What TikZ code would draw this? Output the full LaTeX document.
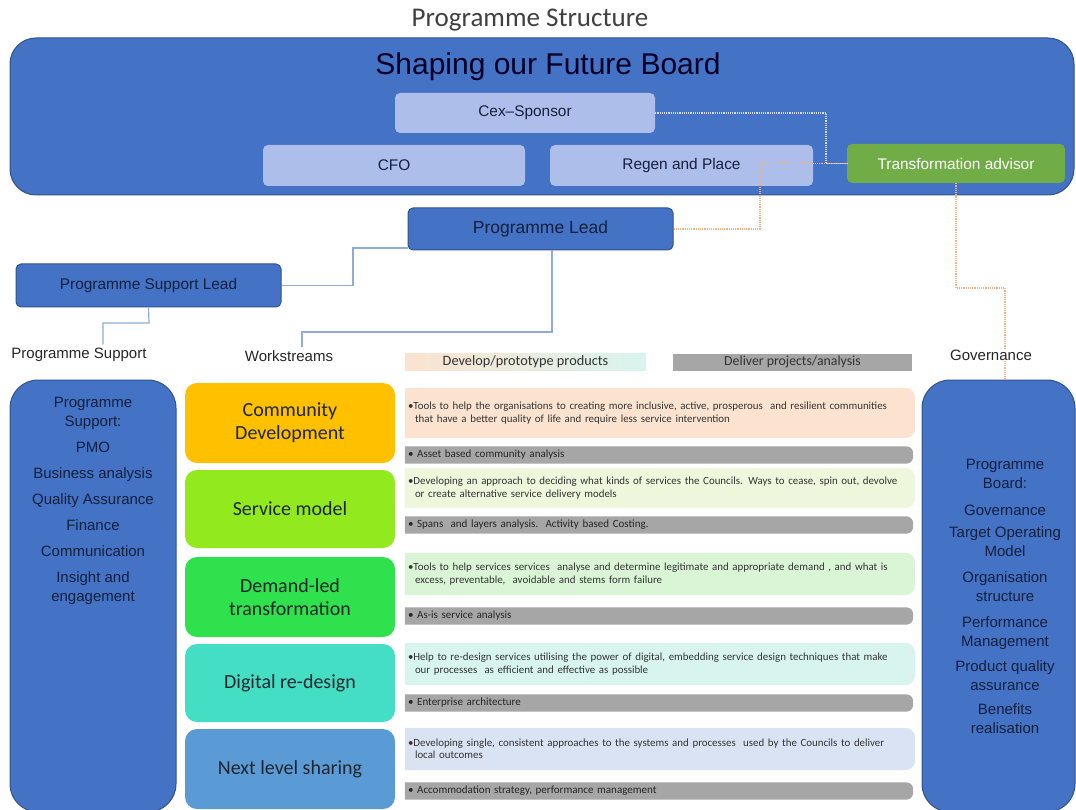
\documentclass[tikz,border=0pt]{standalone}
\usepackage{fontspec}
\setmainfont{Liberation Sans}
\newfontfamily\calib{Carlito}
\usetikzlibrary{backgrounds}

\definecolor{boardblue}{HTML}{4472C4}
\definecolor{boardedge}{HTML}{2F528F}
\definecolor{lilac}{HTML}{AEBEEA}
\definecolor{navytext}{HTML}{14203E}
\definecolor{advisor}{HTML}{70AD47}
\definecolor{linkblue}{HTML}{8FAADC}
\definecolor{peach}{HTML}{F4B183}
\definecolor{softdot}{HTML}{D6DCF0}
\definecolor{barsgrey}{HTML}{A6A6A6}
\definecolor{wstext}{HTML}{1F2630}
\definecolor{cdorange}{HTML}{FFC000}
\definecolor{smlime}{HTML}{92EA1E}
\definecolor{dtgreen}{HTML}{2FE14C}
\definecolor{drteal}{HTML}{44DEC5}
\definecolor{nlblue}{HTML}{5B9BD5}
\definecolor{cdpale}{HTML}{FBE3D0}
\definecolor{smpale}{HTML}{EEF6DB}
\definecolor{dtpale}{HTML}{D9F5D5}
\definecolor{drpale}{HTML}{D8F4EE}
\definecolor{nlpale}{HTML}{DAE3F3}

% fill a node's outline, rounded on the right hand side only
\newcommand\rightround[3]{%
  \fill[#2] (#1.north west) -- ([xshift=-#3]#1.north east)
    arc[start angle=90, end angle=0, radius=#3]
    -- ([yshift=#3]#1.south east)
    arc[start angle=0, end angle=-90, radius=#3]
    -- (#1.south west) -- cycle;}

\begin{document}
\begin{tikzpicture}[x=1pt, y=-1pt,
  bluebox/.style={draw=boardedge, fill=boardblue, line width=1pt, rounded corners=5pt, text=navytext},
  lilacbox/.style={fill=lilac, rounded corners=5pt, text=navytext, minimum height=41pt, font=\fontsize{15.4}{18}\selectfont},
  wsbox/.style={rounded corners=12pt, minimum width=210pt, text=wstext, align=center, font=\calib\fontsize{20}{23}\selectfont},
  desctext/.style={minimum width=510pt, text width=504pt, inner xsep=3pt, align=left, text=black!80, font=\calib\fontsize{10.9}{12.5}\selectfont},
  bartext/.style={minimum width=508pt, text width=502pt, inner xsep=3pt, inner ysep=0pt, minimum height=17pt, align=left, text=black!85, font=\calib\fontsize{11}{12}\selectfont},
  headtext/.style={text=black!85, font=\fontsize{15}{18}\selectfont},
  listtext/.style={align=center, text=navytext, font=\fontsize{15}{19}\selectfont},
  link/.style={draw=linkblue, line width=1.2pt},
  peachdots/.style={draw=peach, line width=1.2pt, densely dotted},
  softdots/.style={draw=softdot, line width=1.2pt, densely dotted}]

\useasboundingbox (0,0) rectangle (1076,810);

% Title and the board
\node[anchor=base, text=black!75, font=\calib\fontsize{27}{30}\selectfont] (title) at (530,27) {Programme Structure};
\node[bluebox, rounded corners=26pt, minimum width=1064pt, minimum height=157pt] (board) at (542,116.5) {};
\node[anchor=base, text=black!85!blue, font=\fontsize{30}{34}\selectfont] (boardtitle) at (548,75) {Shaping our Future Board};
\node[lilacbox, minimum width=260pt, minimum height=40pt] (cex) at (525,113) {Cex--Sponsor};
\node[lilacbox, minimum width=262pt] (cfo) at (394,165.5) {CFO};
\node[lilacbox, minimum width=263pt] (regen) at (681.5,165.5) {Regen and Place};
\node[fill=advisor, rounded corners=5pt, minimum width=218pt, minimum height=39pt, text=white, font=\fontsize{15.4}{18}\selectfont] (trans) at (956,163.5) {Transformation advisor};

% Leads
\node[bluebox, minimum width=265pt, minimum height=42pt, font=\fontsize{17.5}{20}\selectfont] (lead) at (540.5,229) {Programme Lead};
\node[bluebox, minimum width=265pt, minimum height=43pt, font=\fontsize{15.4}{18}\selectfont] (psl) at (148.5,285.5) {Programme Support Lead};

% Column headings
\node[headtext] (suplabel) at (79,355) {Programme Support};
\node[headtext] (wslabel) at (289,356) {Workstreams};
\node[left color=cdpale, right color=drpale, minimum width=241pt, minimum height=17pt, inner sep=0pt, text=black!80, font=\calib\fontsize{14.3}{15}\selectfont] (devbar) at (525.5,361.5) {Develop/prototype products};
\node[fill=barsgrey, minimum width=239pt, minimum height=17pt, inner sep=0pt, text=black!80, font=\calib\fontsize{13.8}{15}\selectfont] (delbar) at (792.5,362) {Deliver projects/analysis};

% Side panels
\node[bluebox, rounded corners=28pt, minimum width=166pt, minimum height=432pt] (supbox) at (93,596) {};
\node[listtext, anchor=north] (suplist) at (93,394) {Programme\\Support:\\[7pt]PMO\\[7pt]Business analysis\\[7pt]Quality Assurance\\[7pt]Finance\\[7pt]Communication\\[7pt]Insight and\\engagement};
\node[bluebox, rounded corners=28pt, minimum width=153pt, minimum height=432pt] (govbox) at (998.5,596) {};
\node[listtext] (govlist) at (1005,596) {Programme\\Board:\\[8pt]Governance\\[3pt]Target Operating\\Model\\[7pt]Organisation\\structure\\[7pt]Performance\\Management\\[6pt]Product quality\\assurance\\[5pt]Benefits\\realisation};

% Workstreams
\node[wsbox, fill=cdorange, minimum height=80pt] (wcd) at (290,423) {Community\\Development};
\node[wsbox, fill=smlime, minimum height=78pt] (wsm) at (290,509) {Service model};
\node[wsbox, fill=dtgreen, minimum height=80pt] (wdt) at (290,597) {Demand-led\\transformation};
\node[wsbox, fill=drteal, minimum height=78pt] (wdr) at (290,683) {Digital re-design};
\node[wsbox, fill=nlblue, minimum height=80pt] (wnl) at (290,769) {Next level sharing};

% Products and projects per workstream
\node[desctext, minimum height=50pt] (dcd) at (660,413) {\textbullet Tools to help the organisations to creating more inclusive, active, prosperous\ \ and resilient communities\\\hspace*{7pt}that have a better quality of life and require less service intervention};
\node[bartext] (gcd) at (659,455) {\textbullet\ Asset based community analysis};
\node[desctext, minimum height=40pt] (dsm) at (660,488) {\textbullet Developing an approach to deciding what kinds of services the Councils. Ways to cease, spin out, devolve\\\hspace*{7pt}or create alternative service delivery models};
\node[bartext] (gsm) at (659,525) {\textbullet\ Spans\ \ and layers analysis.\ \ Activity based Costing.};
\node[desctext, minimum height=42pt] (ddt) at (660,574) {\textbullet Tools to help services services\ \ analyse and determine legitimate and appropriate demand , and what is\\\hspace*{7pt}excess, preventable,\ \ avoidable and stems form failure};
\node[bartext] (gdt) at (659,616) {\textbullet\ As-is service analysis};
\node[desctext, minimum height=42pt] (ddr) at (660,664) {\textbullet Help to re-design services utilising the power of digital, embedding service design techniques that make\\\hspace*{7pt}our processes\ \ as efficient and effective as possible};
\node[bartext] (gdr) at (659,703) {\textbullet\ Enterprise architecture};
\node[desctext, minimum height=42pt] (dnl) at (660,749) {\textbullet Developing single, consistent approaches to the systems and processes\ \ used by the Councils to deliver\\\hspace*{7pt}local outcomes};
\node[bartext] (gnl) at (659,791) {\textbullet\ Accommodation strategy, performance management};

\begin{pgfonlayer}{background}
\rightround{dcd}{cdpale}{10pt}
\rightround{dsm}{smpale}{10pt}
\rightround{ddt}{dtpale}{10pt}
\rightround{ddr}{drpale}{10pt}
\rightround{dnl}{nlpale}{10pt}
\rightround{gcd}{barsgrey}{7pt}
\rightround{gsm}{barsgrey}{7pt}
\rightround{gdt}{barsgrey}{7pt}
\rightround{gdr}{barsgrey}{7pt}
\rightround{gnl}{barsgrey}{7pt}
\end{pgfonlayer}

% Reporting lines
\coordinate (kneeA) at (826,163.5);
\draw[softdots] (cex.east) -| (kneeA) -- (trans.west);
\coordinate (kneeB) at (760,163.5);
\draw[peachdots] (trans.west) -- (kneeB) |- (lead.east);
\coordinate (kneeC) at (1005,288);
\draw[peachdots] (trans.south) |- (kneeC) -- (kneeC |- govbox.north);
\coordinate (kneeD) at (353,248);
\draw[link] (psl.east) -| (kneeD) -- (kneeD -| lead.west);
\coordinate (kneeE) at (552,332);
\coordinate (kneeF) at (302,332);
\draw[link] (kneeE |- lead.south) -- (kneeE) -- (kneeF) -- (kneeF |- wslabel.north);
\coordinate (kneeG) at (149,323);
\coordinate (kneeH) at (103,323);
\draw[link] (psl.south) -- (kneeG) -- (kneeH) -- (kneeH |- suplabel.north);

% Governance heading sits over the dotted line
\node[headtext, fill=white, inner sep=1pt] (govlabel) at (991,355) {Governance};
\end{tikzpicture}
\end{document}
